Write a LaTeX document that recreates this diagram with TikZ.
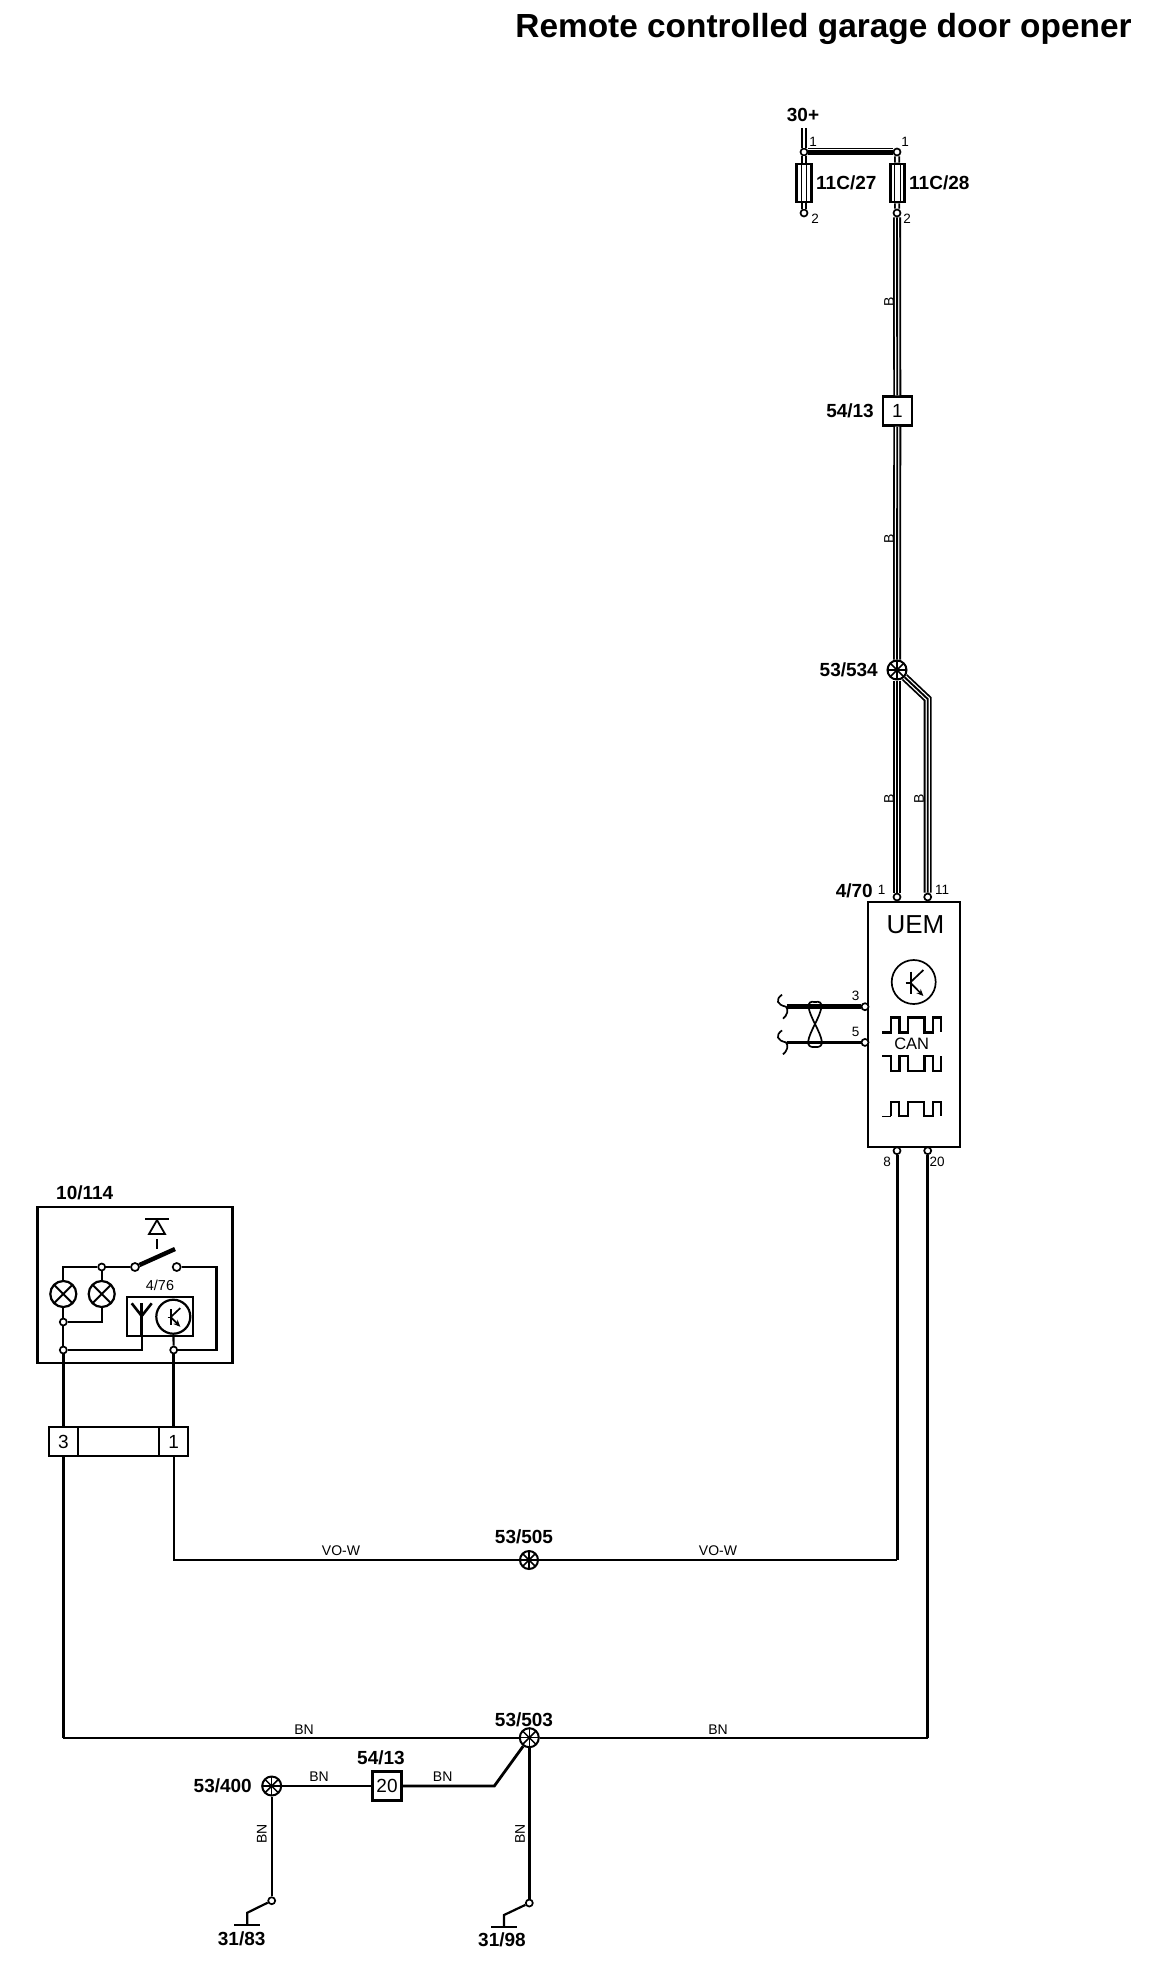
\documentclass[tikz,border=0pt]{standalone}
\usepackage{fontspec}
\setmainfont{Liberation Sans}
\usetikzlibrary{arrows.meta}
\tikzset{
  lbl/.style={inner sep=0pt,font=\bfseries\fontsize{19}{21}\selectfont},
  sml/.style={inner sep=0pt,font=\fontsize{14}{16}\selectfont},
  num/.style={inner sep=0pt,font=\fontsize{13.5}{15}\selectfont},
  term/.style={circle,draw,fill=white,line width=1.7pt,minimum size=7pt,inner sep=0pt},
  cell/.style={rectangle,draw,line width=2.2pt,minimum height=29pt,inner sep=0pt,font=\fontsize{19}{21}\selectfont},
  fuse/.style={rectangle,draw,fill=white,line width=2.8pt,minimum width=14.5pt,minimum height=38pt,inner sep=0pt},
  junc/.style={circle,draw,fill=white,line width=2pt,minimum size=19pt,inner sep=0pt,
    path picture={\foreach \a in {0,45,90,135}{\draw[line width=1.5pt] (path picture bounding box.center)++(\a:12)--++(\a:-24);}}},
  lamp/.style={circle,draw,fill=white,line width=2.2pt,minimum size=26pt,inner sep=0pt,
    path picture={\foreach \a in {45,135}{\draw[line width=2pt] (path picture bounding box.center)++(\a:14)--++(\a:-28);}}},
  buswire/.style={line width=8pt,postaction={draw,white,line width=4.4pt},postaction={draw,black,line width=1.9pt}},
  stubwire/.style={double,double distance=2.4pt,line width=1.8pt},
  thinwire/.style={line width=2.2pt},
  mainwire/.style={line width=3pt},
}
\begin{document}
\begin{tikzpicture}[x=1pt,y=-1pt]
\useasboundingbox (0,0) rectangle (1152,1964);
\node[inner sep=0pt,font=\bfseries\fontsize{33.4}{36}\selectfont] (title) at (823.5,29) {Remote controlled garage door opener};
% fuses
\coordinate (feed) at (804,128);
\node[term] (f27a) at (804,152) {};
\node[term] (f28a) at (897,152) {};
\node[fuse] (f27) at (804,183) {};
\node[fuse] (f28) at (897.5,183) {};
\node[term] (f27b) at (804,213) {};
\node[term] (f28b) at (897,213) {};
\foreach \f in {f27,f28}{
\draw[line width=1pt] ([xshift=-2.6pt,yshift=-2.5pt]\f.north)--([xshift=-2.6pt,yshift=2.5pt]\f.south);
\draw[line width=1pt] ([xshift=2.6pt,yshift=-2.5pt]\f.north)--([xshift=2.6pt,yshift=2.5pt]\f.south);
}
\draw[stubwire] (feed)--(f27a);
\draw[stubwire] (f27a)--(f27);
\draw[stubwire] (f28a)--(f28);
\draw[stubwire] (f27)--(f27b);
\draw[stubwire] (f28)--(f28b);
\draw[line width=4.6pt] ([yshift=-.6pt]f27a.east)--([yshift=-.6pt]f28a.west);
\draw[line width=1pt] ([yshift=3.6pt]f27a.east)--([yshift=3.6pt]f28a.west);
\node[lbl] (lfeed) at (803,115) {30+};
\node[num] (n27a) at (813,142) {1};
\node[num] (n28a) at (905,142) {1};
\node[num] (n27b) at (815,219) {2};
\node[num] (n28b) at (907,219) {2};
\node[lbl,anchor=west] (l27) at (816,183) {11C/27};
\node[lbl,anchor=west] (l28) at (909,183) {11C/28};
% upper wires
\node[cell,fill=white,minimum width=29pt] (b1) at (897.3,411) {1};
\node[lbl,anchor=east] (lb1) at (874,411) {54/13};
\node[junc] (j534) at (897,670) {};
\node[lbl,anchor=east] (lj534) at (878,670) {53/534};
\node[term] (t1) at (897,897) {};
\node[term] (t11) at (927.7,897) {};
\coordinate (kink) at (927.7,699);
\draw[buswire] (f28b)--(b1);
\draw[buswire] (b1)--(j534);
\draw[buswire] (j534)--(t1);
\draw[buswire] (j534)--(kink)--(t11);
\node[sml,rotate=90] (w1) at (889,302) {B};
\node[sml,rotate=90] (w2) at (889,539) {B};
\node[sml,rotate=90] (w3) at (889,799) {B};
\node[sml,rotate=90] (w4) at (919,799) {B};
% UEM
\node[rectangle,draw,line width=2.4pt,minimum width=92.5pt,minimum height=245pt,inner sep=0pt] (uem) at (914,1024.4) {};
\node[inner sep=0pt,font=\fontsize{26}{28}\selectfont] (luem) at (915.5,925) {UEM};
\node[lbl,anchor=east] (luem2) at (873,891) {4/70};
\node[num] (n1) at (881.7,890) {1};
\node[num] (n11) at (942,890) {11};
\node[circle,draw,line width=1.7pt,minimum size=44pt,inner sep=0pt] (tra) at (913.7,982) {};
\node[circle,draw,line width=2.2pt,minimum size=34pt,inner sep=0pt] (trb) at (173.3,1316.7) {};
\foreach \n/\s in {tra/1,trb/0.72}{
\draw[line width=2pt] (\n.center)++(-3*\s,-10.5*\s)--++(0,22*\s);
\draw[line width=1.7pt] (\n.center)++(-8*\s,1*\s)--++(5*\s,0);
\draw[line width=1.7pt] (\n.center)++(-3*\s,0)--++(12.7*\s,-12*\s);
\draw[line width=1.7pt,-{Stealth[length=7pt,width=6pt]}] (\n.center)++(-3*\s,1*\s)--++(12.7*\s,13*\s);
}
\node[term] (t3) at (865,1006.7) {};
\node[term] (t5) at (865,1042.4) {};
\node[num] (n3) at (855.7,995.7) {3};
\node[num] (n5) at (855.7,1032) {5};
\coordinate (e3) at (786.7,1006.7);
\coordinate (e5) at (786.7,1042.4);
\draw[line width=5pt] (e3)--(t3);
\draw[line width=3.6pt] (e5)--(t5);
\foreach \y in {1006.7,1042.4}{
\draw[line width=1.7pt] (782,\y-12) .. controls (775,\y-7) and (777,\y-2) .. (786,\y) .. controls (789,\y+3) and (787,\y+9) .. (783,\y+12);
}
\draw[line width=1.7pt] (815,1002) .. controls (805,1000) and (808,1010) .. (815,1024) .. controls (822,1038) and (826,1048) .. (815,1047) .. controls (804,1048) and (808,1038) .. (815,1024) .. controls (822,1010) and (825,1000) .. (815,1002);
\draw[line width=2.4pt] (882.3,1032.3)-|(891,1017.3)-|(899.3,1032.3)-|(907.7,1017.3)-|(924.3,1032.3)-|(932.7,1017.3)-|(941,1032.3);
\node[inner sep=0pt,font=\fontsize{16.5}{18}\selectfont] (lcan) at (911.7,1043.5) {CAN};
\draw[line width=2.4pt] (882.3,1056)-|(891,1071)-|(899.3,1056)-|(907.7,1071)-|(924.3,1056)-|(932.7,1071)-|(941,1056);
\draw[line width=2.2pt] (891,1116)|-(899.3,1101.7)|-(907.7,1116)|-(924.3,1101.7)|-(932.7,1116)|-(941,1101.7)--(941,1116);
\draw[line width=1pt] (882.3,1116)--(891,1116);
\node[term] (t8) at (897,1150.7) {};
\node[term] (t20) at (927.7,1150.7) {};
\node[num] (n8) at (887,1161.7) {8};
\node[num] (n20) at (937,1161.7) {20};
% 10/114
\node[rectangle,draw,line width=2.8pt,minimum width=194.6pt,minimum height=156pt,inner sep=0pt] (gdo) at (135,1285) {};
\node[lbl,anchor=west] (lgdo) at (56,1193) {10/114};
\draw[line width=2.2pt] (145,1219)--(169,1219);
\draw[line width=1.8pt] (157,1220)--(149,1234)--(165,1234)--cycle;
\draw[line width=1.8pt] (157,1239)--(157,1249);
\node[term,minimum size=8pt] (sw1) at (135,1267) {};
\node[term,minimum size=8pt] (sw2) at (176.7,1267) {};
\coordinate (swend) at (175,1249);
\draw[line width=4.4pt] (sw1)--(swend);
\node[lamp] (la) at (63.3,1294) {};
\node[lamp] (lb) at (101.7,1294) {};
\node[term] (na) at (101.7,1267) {};
\node[term] (nb) at (63.3,1322) {};
\node[term] (nc) at (63.3,1350) {};
\node[term] (nd) at (173.7,1350) {};
\draw[thinwire] (sw1)--(na)--(63.3,1267)--(la);
\draw[thinwire] (na)--(lb);
\draw[thinwire] (la)--(nb)--(nc);
\draw[thinwire] (nb)-|(lb);
\draw[line width=2.6pt] (sw2)-|(216.7,1350)--(nd);
\node[rectangle,draw,line width=1.8pt,minimum width=66.6pt,minimum height=39.3pt,inner sep=0pt] (rx) at (160,1316.4) {};
\node[inner sep=0pt,font=\fontsize{14.4}{16}\selectfont] (lrx) at (160,1285.7) {4/76};
\draw[line width=2.6pt] (141.7,1303.3)--(141.7,1336);
\draw[line width=2.6pt] (131.7,1303.3)--(141.7,1316)--(151.7,1303.3);
\draw[thinwire] (nc)-|(141.7,1336);
\draw[thinwire] (trb)--(nd);
% connector
\node[cell,minimum width=28.7pt] (c3) at (63.3,1441.7) {3};
\node[cell,minimum width=81.3pt] (cm) at (118.3,1441.7) {};
\node[cell,minimum width=29.3pt] (c1) at (173.7,1441.7) {1};
\draw[mainwire] (nc)--(c3);
\draw[mainwire] (nd)--(c1);
% lower wires
\node[junc,minimum size=18pt] (j505) at (529,1560) {};
\node[lbl] (lj505) at (524,1537) {53/505};
\node[sml] (vo1) at (341,1551) {VO-W};
\node[sml] (vo2) at (718,1551) {VO-W};
\coordinate (cnr8) at (897,1560);
\draw[thinwire] (c1)|-(j505);
\draw[thinwire] (j505)--(cnr8);
\draw[mainwire] (t8)--(cnr8);
\node[junc] (j503) at (529.3,1737.7) {};
\node[lbl] (lj503) at (524,1720) {53/503};
\node[sml] (bn1) at (304,1730) {BN};
\node[sml] (bn2) at (718,1730) {BN};
\coordinate (cnr3) at (63.3,1737.7);
\coordinate (cnr20) at (927.7,1737.7);
\draw[mainwire] (c3)--(cnr3);
\draw[thinwire] (cnr3)--(j503);
\draw[thinwire] (j503)--(cnr20);
\draw[mainwire] (t20)--(cnr20);
\node[junc] (j400) at (271.7,1786) {};
\node[lbl,anchor=east] (lj400) at (252,1786) {53/400};
\node[cell,minimum width=29pt] (b20) at (387,1786) {20};
\node[lbl] (lb20) at (381,1757.7) {54/13};
\node[sml] (bn3) at (319,1776.7) {BN};
\node[sml] (bn4) at (442.7,1776.7) {BN};
\coordinate (bend) at (494.3,1786);
\draw[thinwire] (j400)--(b20);
\draw[line width=2.8pt] (b20)--(bend)--(j503);
% grounds
\node[term] (g83) at (271.7,1900.7) {};
\node[term] (g98) at (529.3,1903) {};
\coordinate (k83) at (247.3,1912.7);
\coordinate (k98) at (504,1915);
\coordinate (e83) at (247.3,1925);
\coordinate (e98) at (504,1927);
\draw[thinwire] (j400)--(g83);
\draw[mainwire] (j503)--(g98);
\draw[thinwire] (g83)--(k83)--(e83);
\draw[thinwire] (g98)--(k98)--(e98);
\draw[line width=2.8pt] ([xshift=-13pt]e83)--([xshift=13pt]e83);
\draw[line width=2.8pt] ([xshift=-13pt]e98)--([xshift=13pt]e98);
\node[sml,rotate=90] (bn5) at (261.7,1834) {BN};
\node[sml,rotate=90] (bn6) at (520,1834) {BN};
\node[lbl] (l83) at (241.7,1938.5) {31/83};
\node[lbl] (l98) at (502,1940) {31/98};
\end{tikzpicture}
\end{document}
